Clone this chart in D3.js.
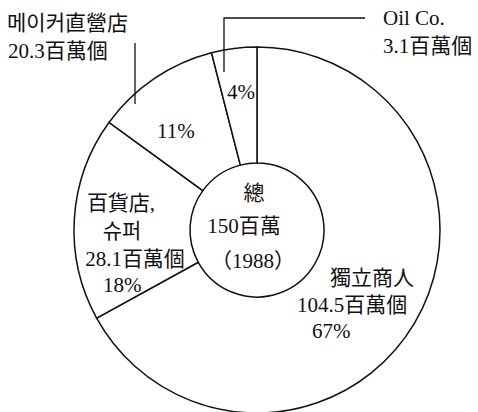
<!DOCTYPE html>
<html>
<head>
<meta charset="utf-8">
<script src="https://cdn.jsdelivr.net/npm/d3@7"></script>
<style>
  body { margin: 0; background: #fff; }
  text { font-family: "Liberation Serif", "Noto Sans CJK KR", serif; fill: #111; }
</style>
</head>
<body>
<div id="chart"></div>
<script>
// categories and values (clockwise from 12 o'clock)
const categories = ['獨立商人', '百貨店, 슈퍼', '메이커直營店', 'Oil Co.'];
const counts = ['104.5百萬個', '28.1百萬個', '20.3百萬個', '3.1百萬個'];
const shares = [67, 18, 11, 4];
const centerLines = ['總', '150百萬', '（1988）'];

const width = 478;
const height = 412;
const cx = 257, cy = 230;
const innerR = 67, outerR = 183;

const svg = d3.select('#chart')
  .append('svg')
  .attr('width', width)
  .attr('height', height);

const pie = d3.pie().sort(null).value(d => d)(shares);
const arc = d3.arc().innerRadius(innerR).outerRadius(outerR);

const g = svg.append('g').attr('transform', `translate(${cx},${cy})`);

g.selectAll('path.slice')
  .data(pie)
  .enter().append('path')
  .attr('class', 'slice')
  .attr('d', arc)
  .attr('fill', '#fff')
  .attr('stroke', '#111')
  .attr('stroke-width', 1.5);

// leader lines for the two small slices
const leaders = [
  [[224, 72], [224, 18], [365, 18]],
  [[135, 104], [135, 43]]
];
svg.selectAll('path.leader')
  .data(leaders)
  .enter().append('path')
  .attr('class', 'leader')
  .attr('d', d => d3.line()(d))
  .attr('fill', 'none')
  .attr('stroke', '#111')
  .attr('stroke-width', 1.3);

// text lines: position and anchor only, content from the arrays above
const labels = [
  { x: 330, y: 285, anchor: 'start', text: categories[0] },
  { x: 297, y: 312, anchor: 'start', text: counts[0] },
  { x: 312, y: 338, anchor: 'start', text: shares[0] + '%' },

  { x: 121, y: 210, anchor: 'middle', text: categories[1].split(' ')[0] },
  { x: 122, y: 238, anchor: 'middle', text: categories[1].split(' ')[1] },
  { x: 135, y: 266, anchor: 'middle', text: counts[1] },
  { x: 103, y: 292, anchor: 'start', text: shares[1] + '%' },

  { x: 7, y: 30, anchor: 'start', text: categories[2] },
  { x: 8, y: 58, anchor: 'start', text: counts[2] },
  { x: 157, y: 138, anchor: 'start', text: shares[2] + '%' },

  { x: 383, y: 25, anchor: 'start', text: categories[3] },
  { x: 383, y: 53, anchor: 'start', text: counts[3] },
  { x: 227, y: 99, anchor: 'start', text: shares[3] + '%' },

  { x: 254, y: 200, anchor: 'middle', text: centerLines[0] },
  { x: 244, y: 233, anchor: 'middle', text: centerLines[1] },
  { x: 253, y: 268, anchor: 'middle', text: centerLines[2] }
];

svg.selectAll('text.lbl')
  .data(labels)
  .enter().append('text')
  .attr('class', 'lbl')
  .attr('x', d => d.x)
  .attr('y', d => d.y)
  .attr('text-anchor', d => d.anchor)
  .attr('font-size', 21)
  .text(d => d.text);
</script>
</body>
</html>
